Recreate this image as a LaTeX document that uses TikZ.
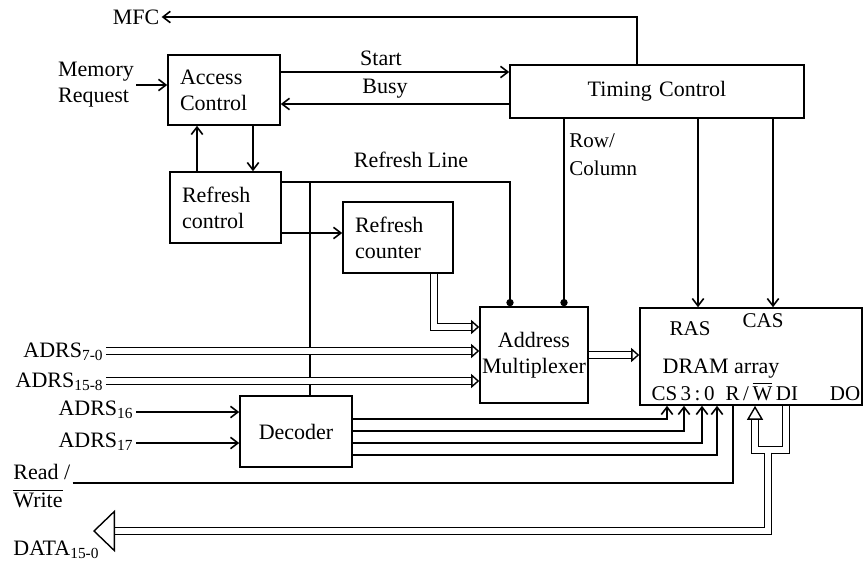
\documentclass[tikz,border=0pt]{standalone}
\usepackage{fontspec}
\setmainfont{Liberation Serif}
\usetikzlibrary{arrows.meta}

\begin{document}
\begin{tikzpicture}[x=0.5pt,y=-0.5pt,
  font=\fontsize{11}{13}\selectfont,
  box/.style={draw,line width=0.8pt,inner xsep=6pt,inner ysep=2pt,align=left},
  lbl/.style={inner sep=1pt,align=left},
  sml/.style={inner sep=0.5pt,font=\fontsize{10.5}{12}\selectfont},
  ln/.style={line width=0.8pt},
  a/.style={ln,-{Straight Barb[length=1.3mm,width=2mm]}},
  dot/.style={ln,-{Circle[length=3.6pt]}},
  bus/.style={double,double distance=2.6pt,line width=0.7pt,-{Triangle[open,length=4pt,width=7pt]}}]
\useasboundingbox (0,0) rectangle (865,569);
% blocks
\node[box,text width=44pt,minimum height=35pt] (acc) at (224,90) {Access\\Control};
\node[box,text width=135pt,minimum height=26.5pt,align=center] (tim) at (657,91.5) {Timing Control};
\node[box,text width=43.5pt,minimum height=35.5pt] (rctl) at (225.5,207.5) {Refresh\\control};
\node[box,text width=43pt,minimum height=35.5pt] (rcnt) at (398,237.5) {Refresh\\counter};
\node[box,text width=52pt,inner xsep=1pt,minimum height=48pt,align=center] (mux) at (534,355) {Address\\Multiplexer};
\node[box,minimum width=111pt,minimum height=48.5pt] (dram) at (751,356.5) {};
\node[box,text width=44pt,minimum height=35.5pt,align=center] (dec) at (296,431.5) {Decoder};
% inside the DRAM
\node[sml,anchor=base] (ras) at (690,335) {RAS};
\node[sml,anchor=base] (cas) at (763,327) {CAS};
\node[sml,anchor=base,font=\fontsize{11}{12}\selectfont] (arr) at (721,373) {DRAM array};
\node[sml,anchor=base] (cs) at (683,400) {CS\,3\,:\,0};
\node[sml,anchor=base] (rw) at (749,400) {R\,/\,$\overline{\mbox{W}}$};
\node[sml,anchor=base] (din) at (787,400) {DI};
\node[sml,anchor=base] (dout) at (845,400) {DO};
% outside labels
\node[lbl] (mfc) at (136,17) {MFC};
\node[lbl] (memreq) at (96,85) {Memory\\Request};
\node[lbl,anchor=base] (start) at (381,65) {Start};
\node[lbl,anchor=base] (busy) at (385,93) {Busy};
\node[lbl] (rline) at (411,160) {Refresh Line};
\node[lbl,anchor=north west,font=\fontsize{10.5}{14}\selectfont] (rowcol) at (567,131) {Row/\\Column};
\node[lbl,anchor=base east] (ad7) at (106,357) {ADRS\textsubscript{7-0}};
\node[lbl,anchor=base east] (ad15) at (106,387) {ADRS\textsubscript{15-8}};
\node[lbl,anchor=base east] (ad16) at (136,415) {ADRS\textsubscript{16}};
\node[lbl,anchor=base east] (ad17) at (136,447) {ADRS\textsubscript{17}};
\node[lbl,anchor=north west,font=\fontsize{11}{14}\selectfont] (rwlbl) at (11,462) {Read /\\$\overline{\mbox{Write}}$};
\node[lbl,anchor=base west] (data) at (11,555) {DATA\textsubscript{15-0}};
% where lines run
\coordinate (ystart) at (0,72);
\coordinate (ybusy) at (0,104);
\coordinate (xmfc) at (637,0);
\coordinate (xdn) at (253,0);
\coordinate (xup) at (197,0);
\coordinate (yrl) at (0,182);
\coordinate (xrl) at (510,0);
\coordinate (xdec) at (310,0);
\coordinate (ycnt) at (0,233);
\coordinate (xrc) at (564,0);
\coordinate (xras) at (698,0);
\coordinate (xcas) at (773,0);
\coordinate (xcb) at (434,0);
\coordinate (ycb) at (0,327);
\coordinate (yad7) at (0,351);
\coordinate (yad15) at (0,381);
\coordinate (ymd) at (0,355);
\coordinate (rwc) at (733,483);
\coordinate (di) at (755,450);
\coordinate (do) at (786,450);
\coordinate (dj) at (768,452.6);
\coordinate (dtip) at (93,531);
% control lines
\draw[a] (xmfc |- tim.north) -- (xmfc |- mfc) -- (mfc);
\draw[a] (memreq.east) -- (memreq.east -| acc.west);
\draw[a] (acc.east |- ystart) -- (tim.west |- ystart);
\draw[a] (tim.west |- ybusy) -- (acc.east |- ybusy);
\draw[a] (xdn |- acc.south) -- (xdn |- rctl.north);
\draw[a] (xup |- rctl.north) -- (xup |- acc.south);
\draw[dot] (rctl.east |- yrl) -- (xrl |- yrl) -- (xrl |- mux.north);
\draw[ln] (xdec |- yrl) -- (xdec |- dec.north);
\draw[a] (rctl.east |- ycnt) -- (rcnt.west |- ycnt);
\draw[dot] (xrc |- tim.south) -- (xrc |- mux.north);
\draw[a] (xras |- tim.south) -- (xras |- dram.north);
\draw[a] (xcas |- tim.south) -- (xcas |- dram.north);
\draw[a] (ad16.east |- 0,412) -- (dec.west |- 0,412);
\draw[a] (ad17.east |- 0,443) -- (dec.west |- 0,443);
\foreach \i/\x/\y in {0/667/419,1/684/431,2/702/443,3/717/455} {
  \coordinate (cs\i) at (\x,\y);
  \draw[a] (dec.east |- cs\i) -| (cs\i |- dram.south);
}
\draw[ln] (rwlbl.east |- rwc) -| (rwc |- dram.south);
% buses
\draw[bus] (xcb |- rcnt.south) -- (xcb |- ycb) -- (mux.west |- ycb);
\draw[bus] (yad7 -| ad7.east) -- (yad7 -| mux.west);
\draw[bus] (yad15 -| ad15.east) -- (yad15 -| mux.west);
\draw[bus] (ymd -| mux.east) -- (ymd -| dram.west);
\draw[bus,-{Triangle[open,length=7pt,width=8pt]}] (do |- dram.south) -- (do) -- (di) -- (di |- dram.south);
\draw[bus,-{Triangle[open,length=11pt,width=21pt]}] (dj) |- (dtip);
\end{tikzpicture}
\end{document}
